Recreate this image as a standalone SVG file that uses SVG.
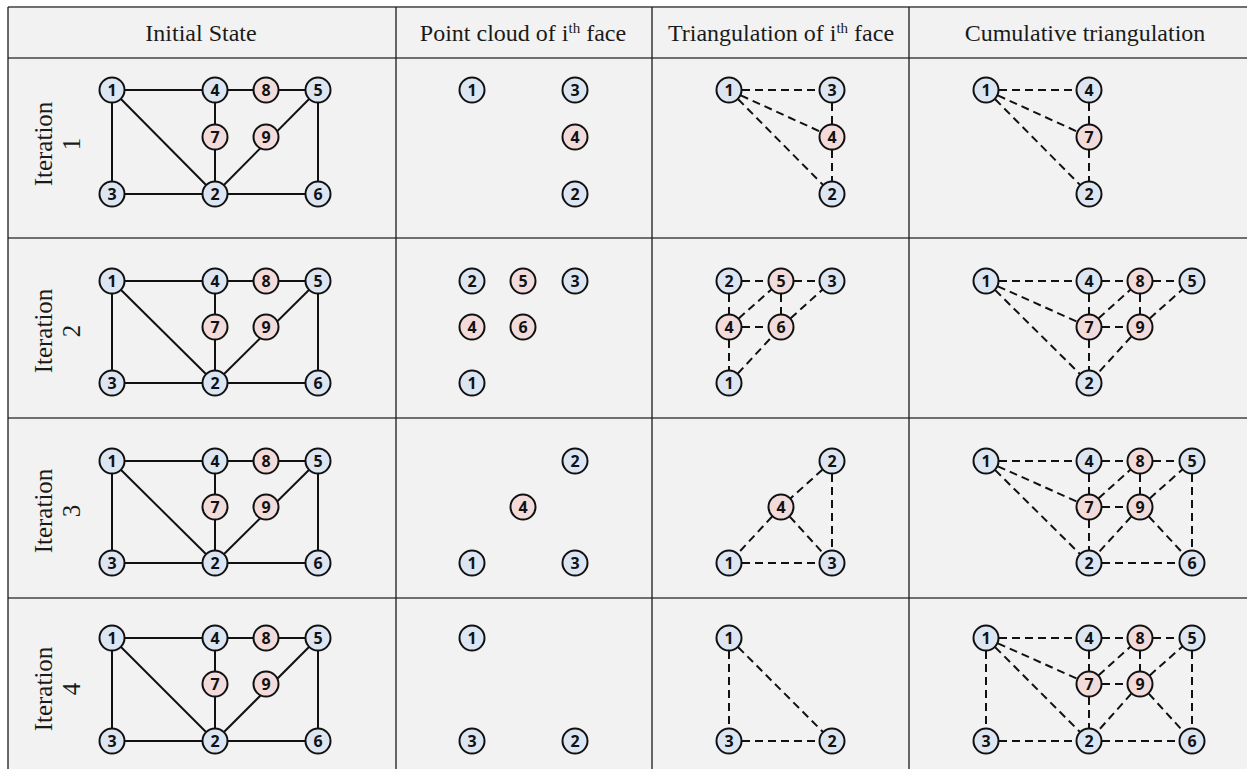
<svg xmlns="http://www.w3.org/2000/svg" width="1247" height="769" viewBox="0 0 1247 769">
<style>
.bg{fill:#f2f2f2}
.hl{stroke:#6f6f6f;stroke-width:2;fill:none}
.vl{stroke:#1a1a1a;stroke-width:1.3;fill:none}
.hd{font-family:"Liberation Serif","Times New Roman",serif;font-weight:400;font-size:24px;fill:#1a1a1a;text-anchor:middle}
.it{font-family:"Liberation Serif","Times New Roman",serif;font-weight:400;font-size:25px;fill:#1a1a1a;text-anchor:middle}
.s line{stroke:#111;stroke-width:2}
.d line{stroke:#111;stroke-width:2;stroke-dasharray:8 5}
circle{stroke:#111;stroke-width:2}
.b circle{fill:#dce6f2}
.p circle{fill:#f2dcdb}
.b text,.p text{font-family:"Noto Sans","Open Sans","Liberation Sans",sans-serif;font-weight:700;font-size:16px;fill:#111;text-anchor:middle}
</style>
<rect class="bg" x="8" y="7" width="1239" height="762"/>
<g id="grid">
<line class="hl" x1="8" y1="7" x2="1247" y2="7"/>
<line class="hl" x1="8" y1="58" x2="1247" y2="58"/>
<line class="hl" x1="8" y1="238" x2="1247" y2="238"/>
<line class="hl" x1="8" y1="418" x2="1247" y2="418"/>
<line class="hl" x1="8" y1="598" x2="1247" y2="598"/>
<line class="vl" x1="8" y1="7" x2="8" y2="769"/>
<line class="vl" x1="396" y1="7" x2="396" y2="769"/>
<line class="vl" x1="652" y1="7" x2="652" y2="769"/>
<line class="vl" x1="909" y1="7" x2="909" y2="769"/>
</g>
<g id="headers">
<text class="hd" x="201" y="41">Initial State</text>
<text class="hd" x="523" y="41">Point cloud of i<tspan font-size="15" baseline-shift="super">th</tspan> face</text>
<text class="hd" x="781" y="41">Triangulation of i<tspan font-size="15" baseline-shift="super">th</tspan> face</text>
<text class="hd" x="1085" y="41">Cumulative triangulation</text>
</g>
<g id="row-labels">
<text class="it" transform="translate(52,144) rotate(-90)">Iteration</text>
<text class="it" transform="translate(80,144) rotate(-90)">1</text>
<text class="it" transform="translate(52,331) rotate(-90)">Iteration</text>
<text class="it" transform="translate(80,331) rotate(-90)">2</text>
<text class="it" transform="translate(52,511) rotate(-90)">Iteration</text>
<text class="it" transform="translate(80,511) rotate(-90)">3</text>
<text class="it" transform="translate(52,689) rotate(-90)">Iteration</text>
<text class="it" transform="translate(80,689) rotate(-90)">4</text>
</g>
<g id="connectors">
<g class="s">
<line x1="112" y1="90" x2="215" y2="90"/><line x1="215" y1="90" x2="318" y2="90"/><line x1="112" y1="90" x2="112" y2="194"/><line x1="112" y1="90" x2="215" y2="194"/><line x1="215" y1="90" x2="215" y2="194"/><line x1="318" y1="90" x2="215" y2="194"/><line x1="112" y1="194" x2="318" y2="194"/><line x1="318" y1="90" x2="318" y2="194"/>
<line x1="112" y1="281" x2="215" y2="281"/><line x1="215" y1="281" x2="318" y2="281"/><line x1="112" y1="281" x2="112" y2="383"/><line x1="112" y1="281" x2="215" y2="383"/><line x1="215" y1="281" x2="215" y2="383"/><line x1="318" y1="281" x2="215" y2="383"/><line x1="112" y1="383" x2="318" y2="383"/><line x1="318" y1="281" x2="318" y2="383"/>
<line x1="112" y1="461" x2="215" y2="461"/><line x1="215" y1="461" x2="318" y2="461"/><line x1="112" y1="461" x2="112" y2="563"/><line x1="112" y1="461" x2="215" y2="563"/><line x1="215" y1="461" x2="215" y2="563"/><line x1="318" y1="461" x2="215" y2="563"/><line x1="112" y1="563" x2="318" y2="563"/><line x1="318" y1="461" x2="318" y2="563"/>
<line x1="112" y1="638" x2="215" y2="638"/><line x1="215" y1="638" x2="318" y2="638"/><line x1="112" y1="638" x2="112" y2="741"/><line x1="112" y1="638" x2="215" y2="741"/><line x1="215" y1="638" x2="215" y2="741"/><line x1="318" y1="638" x2="215" y2="741"/><line x1="112" y1="741" x2="318" y2="741"/><line x1="318" y1="638" x2="318" y2="741"/>
</g>
<g class="d">
<line x1="729" y1="90" x2="832" y2="90"/><line x1="729" y1="90" x2="832" y2="137"/><line x1="729" y1="90" x2="832" y2="194"/><line x1="832" y1="90" x2="832" y2="137"/><line x1="832" y1="137" x2="832" y2="194"/>
<line x1="729" y1="281" x2="781" y2="281"/><line x1="781" y1="281" x2="832" y2="281"/><line x1="729" y1="281" x2="729" y2="327"/><line x1="729" y1="327" x2="781" y2="281"/><line x1="781" y1="281" x2="781" y2="327"/><line x1="729" y1="327" x2="781" y2="327"/><line x1="781" y1="327" x2="832" y2="281"/><line x1="729" y1="327" x2="729" y2="383"/><line x1="729" y1="383" x2="781" y2="327"/>
<line x1="832" y1="461" x2="781" y2="507"/><line x1="781" y1="507" x2="729" y2="563"/><line x1="781" y1="507" x2="832" y2="563"/><line x1="832" y1="461" x2="832" y2="563"/><line x1="729" y1="563" x2="832" y2="563"/>
<line x1="729" y1="638" x2="729" y2="741"/><line x1="729" y1="638" x2="832" y2="741"/><line x1="729" y1="741" x2="832" y2="741"/>
<line x1="986" y1="90" x2="1089" y2="90"/><line x1="1089" y1="90" x2="1089" y2="137"/><line x1="1089" y1="137" x2="1089" y2="194"/><line x1="986" y1="90" x2="1089" y2="137"/><line x1="986" y1="90" x2="1089" y2="194"/>
<line x1="986" y1="281" x2="1089" y2="281"/><line x1="1089" y1="281" x2="1140" y2="281"/><line x1="1140" y1="281" x2="1192" y2="281"/><line x1="1089" y1="281" x2="1089" y2="327"/><line x1="986" y1="281" x2="1089" y2="327"/><line x1="986" y1="281" x2="1089" y2="383"/><line x1="1089" y1="327" x2="1089" y2="383"/><line x1="1089" y1="327" x2="1140" y2="281"/><line x1="1140" y1="281" x2="1140" y2="327"/><line x1="1089" y1="327" x2="1140" y2="327"/><line x1="1140" y1="327" x2="1192" y2="281"/><line x1="1140" y1="327" x2="1089" y2="383"/>
<line x1="986" y1="461" x2="1089" y2="461"/><line x1="1089" y1="461" x2="1140" y2="461"/><line x1="1140" y1="461" x2="1192" y2="461"/><line x1="1089" y1="461" x2="1089" y2="507"/><line x1="986" y1="461" x2="1089" y2="507"/><line x1="986" y1="461" x2="1089" y2="563"/><line x1="1089" y1="507" x2="1089" y2="563"/><line x1="1089" y1="507" x2="1140" y2="461"/><line x1="1140" y1="461" x2="1140" y2="507"/><line x1="1089" y1="507" x2="1140" y2="507"/><line x1="1140" y1="507" x2="1192" y2="461"/><line x1="1140" y1="507" x2="1089" y2="563"/><line x1="1192" y1="461" x2="1192" y2="563"/><line x1="1140" y1="507" x2="1192" y2="563"/><line x1="1089" y1="563" x2="1192" y2="563"/>
<line x1="986" y1="638" x2="1089" y2="638"/><line x1="1089" y1="638" x2="1140" y2="638"/><line x1="1140" y1="638" x2="1192" y2="638"/><line x1="1089" y1="638" x2="1089" y2="684"/><line x1="986" y1="638" x2="1089" y2="684"/><line x1="986" y1="638" x2="1089" y2="741"/><line x1="1089" y1="684" x2="1089" y2="741"/><line x1="1089" y1="684" x2="1140" y2="638"/><line x1="1140" y1="638" x2="1140" y2="684"/><line x1="1089" y1="684" x2="1140" y2="684"/><line x1="1140" y1="684" x2="1192" y2="638"/><line x1="1140" y1="684" x2="1089" y2="741"/><line x1="1192" y1="638" x2="1192" y2="741"/><line x1="1140" y1="684" x2="1192" y2="741"/><line x1="1089" y1="741" x2="1192" y2="741"/><line x1="986" y1="638" x2="986" y2="741"/><line x1="986" y1="741" x2="1089" y2="741"/>
</g>
</g>
<g id="nodes">
<g id="r1-init-1" class="b"><circle cx="112" cy="90" r="12.5"/><text x="112" y="95.5">1</text></g>
<g id="r1-init-4" class="b"><circle cx="215" cy="90" r="12.5"/><text x="215" y="95.5">4</text></g>
<g id="r1-init-8" class="p"><circle cx="266" cy="90" r="12.5"/><text x="266" y="95.5">8</text></g>
<g id="r1-init-5" class="b"><circle cx="318" cy="90" r="12.5"/><text x="318" y="95.5">5</text></g>
<g id="r1-init-7" class="p"><circle cx="215" cy="137" r="12.5"/><text x="215" y="142.5">7</text></g>
<g id="r1-init-9" class="p"><circle cx="266" cy="137" r="12.5"/><text x="266" y="142.5">9</text></g>
<g id="r1-init-3" class="b"><circle cx="112" cy="194" r="12.5"/><text x="112" y="199.5">3</text></g>
<g id="r1-init-2" class="b"><circle cx="215" cy="194" r="12.5"/><text x="215" y="199.5">2</text></g>
<g id="r1-init-6" class="b"><circle cx="318" cy="194" r="12.5"/><text x="318" y="199.5">6</text></g>

<g id="r2-init-1" class="b"><circle cx="112" cy="281" r="12.5"/><text x="112" y="286.5">1</text></g>
<g id="r2-init-4" class="b"><circle cx="215" cy="281" r="12.5"/><text x="215" y="286.5">4</text></g>
<g id="r2-init-8" class="p"><circle cx="266" cy="281" r="12.5"/><text x="266" y="286.5">8</text></g>
<g id="r2-init-5" class="b"><circle cx="318" cy="281" r="12.5"/><text x="318" y="286.5">5</text></g>
<g id="r2-init-7" class="p"><circle cx="215" cy="327" r="12.5"/><text x="215" y="332.5">7</text></g>
<g id="r2-init-9" class="p"><circle cx="266" cy="327" r="12.5"/><text x="266" y="332.5">9</text></g>
<g id="r2-init-3" class="b"><circle cx="112" cy="383" r="12.5"/><text x="112" y="388.5">3</text></g>
<g id="r2-init-2" class="b"><circle cx="215" cy="383" r="12.5"/><text x="215" y="388.5">2</text></g>
<g id="r2-init-6" class="b"><circle cx="318" cy="383" r="12.5"/><text x="318" y="388.5">6</text></g>

<g id="r3-init-1" class="b"><circle cx="112" cy="461" r="12.5"/><text x="112" y="466.5">1</text></g>
<g id="r3-init-4" class="b"><circle cx="215" cy="461" r="12.5"/><text x="215" y="466.5">4</text></g>
<g id="r3-init-8" class="p"><circle cx="266" cy="461" r="12.5"/><text x="266" y="466.5">8</text></g>
<g id="r3-init-5" class="b"><circle cx="318" cy="461" r="12.5"/><text x="318" y="466.5">5</text></g>
<g id="r3-init-7" class="p"><circle cx="215" cy="507" r="12.5"/><text x="215" y="512.5">7</text></g>
<g id="r3-init-9" class="p"><circle cx="266" cy="507" r="12.5"/><text x="266" y="512.5">9</text></g>
<g id="r3-init-3" class="b"><circle cx="112" cy="563" r="12.5"/><text x="112" y="568.5">3</text></g>
<g id="r3-init-2" class="b"><circle cx="215" cy="563" r="12.5"/><text x="215" y="568.5">2</text></g>
<g id="r3-init-6" class="b"><circle cx="318" cy="563" r="12.5"/><text x="318" y="568.5">6</text></g>

<g id="r4-init-1" class="b"><circle cx="112" cy="638" r="12.5"/><text x="112" y="643.5">1</text></g>
<g id="r4-init-4" class="b"><circle cx="215" cy="638" r="12.5"/><text x="215" y="643.5">4</text></g>
<g id="r4-init-8" class="p"><circle cx="266" cy="638" r="12.5"/><text x="266" y="643.5">8</text></g>
<g id="r4-init-5" class="b"><circle cx="318" cy="638" r="12.5"/><text x="318" y="643.5">5</text></g>
<g id="r4-init-7" class="p"><circle cx="215" cy="684" r="12.5"/><text x="215" y="689.5">7</text></g>
<g id="r4-init-9" class="p"><circle cx="266" cy="684" r="12.5"/><text x="266" y="689.5">9</text></g>
<g id="r4-init-3" class="b"><circle cx="112" cy="741" r="12.5"/><text x="112" y="746.5">3</text></g>
<g id="r4-init-2" class="b"><circle cx="215" cy="741" r="12.5"/><text x="215" y="746.5">2</text></g>
<g id="r4-init-6" class="b"><circle cx="318" cy="741" r="12.5"/><text x="318" y="746.5">6</text></g>

<g id="r1-pc-1" class="b"><circle cx="472" cy="90" r="12.5"/><text x="472" y="95.5">1</text></g>
<g id="r1-pc-3" class="b"><circle cx="575" cy="90" r="12.5"/><text x="575" y="95.5">3</text></g>
<g id="r1-pc-4" class="p"><circle cx="575" cy="137" r="12.5"/><text x="575" y="142.5">4</text></g>
<g id="r1-pc-2" class="b"><circle cx="575" cy="194" r="12.5"/><text x="575" y="199.5">2</text></g>

<g id="r2-pc-2" class="b"><circle cx="472" cy="281" r="12.5"/><text x="472" y="286.5">2</text></g>
<g id="r2-pc-5" class="p"><circle cx="523" cy="281" r="12.5"/><text x="523" y="286.5">5</text></g>
<g id="r2-pc-3" class="b"><circle cx="575" cy="281" r="12.5"/><text x="575" y="286.5">3</text></g>
<g id="r2-pc-4" class="p"><circle cx="472" cy="327" r="12.5"/><text x="472" y="332.5">4</text></g>
<g id="r2-pc-6" class="p"><circle cx="523" cy="327" r="12.5"/><text x="523" y="332.5">6</text></g>
<g id="r2-pc-1" class="b"><circle cx="472" cy="383" r="12.5"/><text x="472" y="388.5">1</text></g>

<g id="r3-pc-2" class="b"><circle cx="575" cy="461" r="12.5"/><text x="575" y="466.5">2</text></g>
<g id="r3-pc-4" class="p"><circle cx="523" cy="507" r="12.5"/><text x="523" y="512.5">4</text></g>
<g id="r3-pc-1" class="b"><circle cx="472" cy="563" r="12.5"/><text x="472" y="568.5">1</text></g>
<g id="r3-pc-3" class="b"><circle cx="575" cy="563" r="12.5"/><text x="575" y="568.5">3</text></g>

<g id="r4-pc-1" class="b"><circle cx="472" cy="638" r="12.5"/><text x="472" y="643.5">1</text></g>
<g id="r4-pc-3" class="b"><circle cx="472" cy="741" r="12.5"/><text x="472" y="746.5">3</text></g>
<g id="r4-pc-2" class="b"><circle cx="575" cy="741" r="12.5"/><text x="575" y="746.5">2</text></g>

<g id="r1-tri-1" class="b"><circle cx="729" cy="90" r="12.5"/><text x="729" y="95.5">1</text></g>
<g id="r1-tri-3" class="b"><circle cx="832" cy="90" r="12.5"/><text x="832" y="95.5">3</text></g>
<g id="r1-tri-4" class="p"><circle cx="832" cy="137" r="12.5"/><text x="832" y="142.5">4</text></g>
<g id="r1-tri-2" class="b"><circle cx="832" cy="194" r="12.5"/><text x="832" y="199.5">2</text></g>

<g id="r2-tri-2" class="b"><circle cx="729" cy="281" r="12.5"/><text x="729" y="286.5">2</text></g>
<g id="r2-tri-5" class="p"><circle cx="781" cy="281" r="12.5"/><text x="781" y="286.5">5</text></g>
<g id="r2-tri-3" class="b"><circle cx="832" cy="281" r="12.5"/><text x="832" y="286.5">3</text></g>
<g id="r2-tri-4" class="p"><circle cx="729" cy="327" r="12.5"/><text x="729" y="332.5">4</text></g>
<g id="r2-tri-6" class="p"><circle cx="781" cy="327" r="12.5"/><text x="781" y="332.5">6</text></g>
<g id="r2-tri-1" class="b"><circle cx="729" cy="383" r="12.5"/><text x="729" y="388.5">1</text></g>

<g id="r3-tri-2" class="b"><circle cx="832" cy="461" r="12.5"/><text x="832" y="466.5">2</text></g>
<g id="r3-tri-4" class="p"><circle cx="781" cy="507" r="12.5"/><text x="781" y="512.5">4</text></g>
<g id="r3-tri-1" class="b"><circle cx="729" cy="563" r="12.5"/><text x="729" y="568.5">1</text></g>
<g id="r3-tri-3" class="b"><circle cx="832" cy="563" r="12.5"/><text x="832" y="568.5">3</text></g>

<g id="r4-tri-1" class="b"><circle cx="729" cy="638" r="12.5"/><text x="729" y="643.5">1</text></g>
<g id="r4-tri-3" class="b"><circle cx="729" cy="741" r="12.5"/><text x="729" y="746.5">3</text></g>
<g id="r4-tri-2" class="b"><circle cx="832" cy="741" r="12.5"/><text x="832" y="746.5">2</text></g>

<g id="r1-cum-1" class="b"><circle cx="986" cy="90" r="12.5"/><text x="986" y="95.5">1</text></g>
<g id="r1-cum-4" class="b"><circle cx="1089" cy="90" r="12.5"/><text x="1089" y="95.5">4</text></g>
<g id="r1-cum-7" class="p"><circle cx="1089" cy="137" r="12.5"/><text x="1089" y="142.5">7</text></g>
<g id="r1-cum-2" class="b"><circle cx="1089" cy="194" r="12.5"/><text x="1089" y="199.5">2</text></g>

<g id="r2-cum-1" class="b"><circle cx="986" cy="281" r="12.5"/><text x="986" y="286.5">1</text></g>
<g id="r2-cum-4" class="b"><circle cx="1089" cy="281" r="12.5"/><text x="1089" y="286.5">4</text></g>
<g id="r2-cum-8" class="p"><circle cx="1140" cy="281" r="12.5"/><text x="1140" y="286.5">8</text></g>
<g id="r2-cum-5" class="b"><circle cx="1192" cy="281" r="12.5"/><text x="1192" y="286.5">5</text></g>
<g id="r2-cum-7" class="p"><circle cx="1089" cy="327" r="12.5"/><text x="1089" y="332.5">7</text></g>
<g id="r2-cum-9" class="p"><circle cx="1140" cy="327" r="12.5"/><text x="1140" y="332.5">9</text></g>
<g id="r2-cum-2" class="b"><circle cx="1089" cy="383" r="12.5"/><text x="1089" y="388.5">2</text></g>

<g id="r3-cum-1" class="b"><circle cx="986" cy="461" r="12.5"/><text x="986" y="466.5">1</text></g>
<g id="r3-cum-4" class="b"><circle cx="1089" cy="461" r="12.5"/><text x="1089" y="466.5">4</text></g>
<g id="r3-cum-8" class="p"><circle cx="1140" cy="461" r="12.5"/><text x="1140" y="466.5">8</text></g>
<g id="r3-cum-5" class="b"><circle cx="1192" cy="461" r="12.5"/><text x="1192" y="466.5">5</text></g>
<g id="r3-cum-7" class="p"><circle cx="1089" cy="507" r="12.5"/><text x="1089" y="512.5">7</text></g>
<g id="r3-cum-9" class="p"><circle cx="1140" cy="507" r="12.5"/><text x="1140" y="512.5">9</text></g>
<g id="r3-cum-2" class="b"><circle cx="1089" cy="563" r="12.5"/><text x="1089" y="568.5">2</text></g>
<g id="r3-cum-6" class="b"><circle cx="1192" cy="563" r="12.5"/><text x="1192" y="568.5">6</text></g>

<g id="r4-cum-1" class="b"><circle cx="986" cy="638" r="12.5"/><text x="986" y="643.5">1</text></g>
<g id="r4-cum-4" class="b"><circle cx="1089" cy="638" r="12.5"/><text x="1089" y="643.5">4</text></g>
<g id="r4-cum-8" class="p"><circle cx="1140" cy="638" r="12.5"/><text x="1140" y="643.5">8</text></g>
<g id="r4-cum-5" class="b"><circle cx="1192" cy="638" r="12.5"/><text x="1192" y="643.5">5</text></g>
<g id="r4-cum-7" class="p"><circle cx="1089" cy="684" r="12.5"/><text x="1089" y="689.5">7</text></g>
<g id="r4-cum-9" class="p"><circle cx="1140" cy="684" r="12.5"/><text x="1140" y="689.5">9</text></g>
<g id="r4-cum-3" class="b"><circle cx="986" cy="741" r="12.5"/><text x="986" y="746.5">3</text></g>
<g id="r4-cum-2" class="b"><circle cx="1089" cy="741" r="12.5"/><text x="1089" y="746.5">2</text></g>
<g id="r4-cum-6" class="b"><circle cx="1192" cy="741" r="12.5"/><text x="1192" y="746.5">6</text></g>
</g>
</svg>
